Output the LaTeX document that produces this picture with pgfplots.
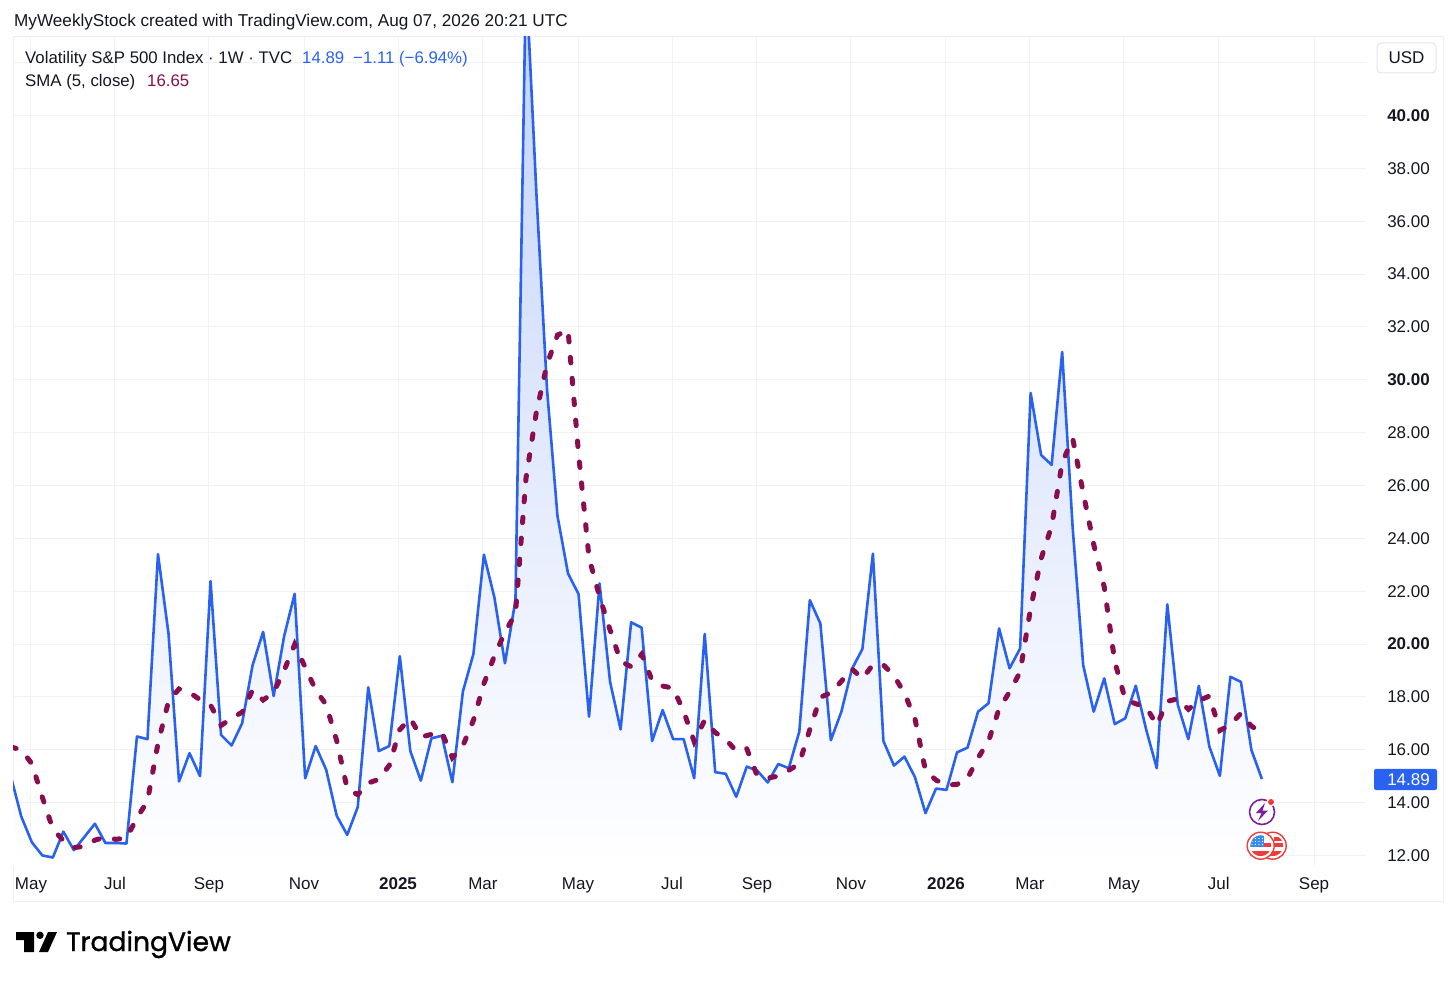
\documentclass[border=0pt]{standalone}
\usepackage{pgfplots}
\pgfplotsset{compat=1.18}
\usepackage{pgfplotstable}
\usepackage{fontspec}
\setmainfont{Liberation Sans}
\newfontfamily\logofont[FakeBold=1.2]{Poppins}
\usetikzlibrary{calc}
\definecolor{tvblue}{HTML}{2962F0}
\definecolor{smac}{HTML}{880E4F}
\definecolor{gridc}{HTML}{F1F2F6}
\definecolor{framec}{HTML}{EDEFF3}
\definecolor{txt}{HTML}{131722}
\definecolor{flagred}{HTML}{EE3B3B}
\definecolor{flagblue}{HTML}{3A8BE8}
\definecolor{boltc}{HTML}{7B1FA2}
\pgfplotstableread{
i v s
0 15.0 16.1
1 13.47 16.0
2 12.5 15.47
3 12.0 14.2
4 11.92 13.0
5 12.9 12.56
6 12.2 12.30
7 12.7 12.34
8 13.2 12.58
9 12.47 12.69
10 12.47 12.61
11 12.45 12.66
12 16.5 13.42
13 16.4 14.06
14 23.4 16.24
15 20.4 17.83
16 14.8 18.3
17 15.87 18.17
18 15.0 17.89
19 22.38 17.69
20 16.56 16.92
21 16.16 17.19
22 17.0 17.42
23 19.2 18.26
24 20.46 17.88
25 18.03 18.17
26 20.3 19.0
27 21.9 19.98
28 14.92 19.12
29 16.14 18.26
30 15.24 17.7
31 13.5 16.34
32 12.78 14.52
33 13.83 14.30
34 18.36 14.74
35 15.95 14.88
36 16.14 15.41
37 19.54 16.76
38 15.95 17.19
39 14.83 16.48
40 16.43 16.58
41 16.53 16.66
42 14.77 15.70
43 18.2 16.15
44 19.62 17.11
45 23.38 18.5
46 21.76 19.55
47 19.27 20.45
48 21.66 21.14
49 45.3 26.27
50 37.0 28.8
51 29.65 30.58
52 24.84 31.69
53 22.67 31.89
54 21.89 27.21
55 17.25 23.26
56 22.29 21.79
57 18.57 20.53
58 16.77 19.35
59 20.82 19.14
60 20.62 19.61
61 16.33 18.62
62 17.5 18.41
63 16.4 18.33
64 16.4 17.45
65 14.92 16.31
66 20.38 17.12
67 15.15 16.65
68 15.09 16.39
69 14.22 15.95
70 15.36 16.04
71 15.21 15.01
72 14.76 14.93
73 15.46 15.0
74 15.3 15.22
75 16.69 15.48
76 21.66 16.77
77 20.78 17.98
78 16.36 18.16
79 17.44 18.59
80 19.05 19.06
81 19.81 18.69
82 23.42 19.22
83 16.33 19.21
84 15.4 18.80
85 15.74 18.14
86 14.96 17.17
87 13.6 15.21
88 14.53 14.85
89 14.48 14.66
90 15.9 14.69
91 16.08 14.92
92 17.44 15.69
93 17.76 16.33
94 20.59 17.55
95 19.08 18.19
96 19.83 18.94
97 29.5 21.35
98 27.15 23.23
99 26.78 24.47
100 31.05 26.86
101 24.4 27.78
102 19.2 25.72
103 17.44 23.77
104 18.7 22.16
105 16.97 19.34
106 17.19 17.9
107 18.42 17.74
108 16.75 17.61
109 15.3 16.93
110 21.5 17.83
111 17.7 17.93
112 16.4 17.53
113 18.42 17.86
114 16.12 18.03
115 15.01 16.73
116 18.76 16.94
117 18.57 17.38
118 15.99 16.89
119 14.89 16.65
}\vix
\begin{document}
\begin{tikzpicture}[x=1pt,y=1pt]
\path[use as bounding box] (0,0) rectangle (1456,983);
% outer frame of the chart
\draw[framec,line width=1pt] (13,82) -- (1443,82) -- (1443,946) -- (13,946) -- cycle;
\begin{axis}[
  at={(13pt,117pt)},anchor=south west,
  scale only axis,width=1353pt,height=829pt,
  xmin=0.21,xmax=128.9,ymin=11.6,ymax=42.97,
  axis line style={draw=none},
  major tick style={draw=none},
  grid=major,grid style={gridc,line width=1pt},
  xtick={1.92,9.91,18.85,27.89,36.83,44.91,53.95,62.89,70.97,79.91,88.95,96.93,105.87,114.9,123.96},
  xticklabels={May,Jul,Sep,Nov,\textbf{2025},Mar,May,Jul,Sep,Nov,\textbf{2026},Mar,May,Jul,Sep},
  ytick={12,14,...,42},
  yticklabels={12.00,14.00,16.00,18.00,\textbf{20.00},22.00,24.00,26.00,28.00,\textbf{30.00},32.00,34.00,36.00,38.00,\textbf{40.00},{}},
  yticklabel pos=right,
  tick label style={font=\fontsize{17}{19}\selectfont,text=txt},
  /pgf/number format/assume math mode=true,
  yticklabel style={anchor=east,xshift=64pt,inner sep=0pt},
  xticklabel style={anchor=base,yshift=-23pt,inner sep=0pt},
]
\addplot[draw=none,shade,top color={rgb,255:red,193;green,209;blue,250},bottom color=white,forget plot] table[x=i,y=v]{\vix} \closedcycle;
\addplot[tvblue,line width=2.6pt,line join=round] table[x=i,y=v]{\vix};
\addplot[smac,line width=5pt,line cap=round,dash pattern=on 5.5pt off 15.5pt] table[x=i,y=s]{\vix};
\end{axis}
% header and legend
\node[anchor=base west,inner sep=0pt,text=txt,font=\fontsize{17.15}{19}\selectfont] at (14,956.5) {MyWeeklyStock created with TradingView.com, Aug 07, 2026 20:21 UTC};
\node[anchor=base west,inner sep=0pt,text=txt,font=\fontsize{16.8}{19}\selectfont] at (25,919.5) {Volatility S\&P 500 Index · 1W · TVC};
\node[anchor=base west,inner sep=0pt,text=tvblue,font=\fontsize{16.8}{19}\selectfont] at (302,919.5) {14.89};
\node[anchor=base west,inner sep=0pt,text=tvblue,font=\fontsize{16.8}{19}\selectfont] at (353,919.5) {−1.11 (−6.94\%)};
\node[anchor=base west,inner sep=0pt,text=txt,font=\fontsize{16.8}{19}\selectfont] at (25,896.5) {SMA (5, close)};
\node[anchor=base west,inner sep=0pt,text=smac,font=\fontsize{16.8}{19}\selectfont] at (147,896.5) {16.65};
% currency box
\draw[draw=framec!80!black!20!framec,fill=white,rounded corners=4pt,line width=1pt] (1377,910) rectangle (1436,940);
\node[text=txt,font=\fontsize{17}{19}\selectfont] at (1406.5,925) {USD};
% price tag
\fill[tvblue,rounded corners=2pt] (1374,193) rectangle (1437,214);
\node[anchor=east,inner sep=0pt,text=white,font=\fontsize{17}{19}\selectfont] at (1430,203.5) {14.89};
% event icons
\draw[boltc,line width=1.6pt] (1262,171) circle (12.5);
\fill[boltc] (1265,180) -- (1256,170) -- (1261.5,170) -- (1258,162) -- (1268,172.5) -- (1262.5,172.5) -- cycle;
\fill[white] (1271,181) circle (4.5);
\fill[flagred] (1271,181) circle (3);
% second flag coin
\filldraw[fill=white,draw=flagred,line width=1.4pt] (1272.7,137.3) circle (13.5);
\begin{scope}
\clip (1272.7,137.3) circle (10.5);
\fill[flagred] (1274,136) rectangle (1290,140);
\fill[flagred] (1274,142.5) rectangle (1290,146);
\fill[flagred] (1260,127) rectangle (1290,132);
\end{scope}
% first flag coin
\filldraw[fill=white,draw=flagred,line width=1.4pt] (1260.7,137.3) circle (13.5);
\begin{scope}
\clip (1260.7,137.3) circle (10.5);
\fill[flagred] (1264,136) rectangle (1280,140);
\fill[flagred] (1245,127) rectangle (1280,132);
\fill[flagblue] (1248,136) rectangle (1264,150);
\foreach \a in {1252,1255.5,1259,1262.5}{\foreach \b in {138.5,141.5,144.5}{\fill[white] (\a,\b) circle (0.7);}}
\end{scope}
% TradingView logo
\fill[black] (16,51) -- (34,51) -- (34,31) -- (24,31) -- (24,43) -- (16,43) -- cycle;
\fill[black] (40,47.7) circle (3.7);
\fill[black] (48,51) -- (57,51) -- (48,31) -- (39,31) -- cycle;
\node[anchor=base west,inner sep=0pt,text=black,font=\logofont\fontsize{26.6}{30}\selectfont] at (66,32) {TradingView};
\end{tikzpicture}
\end{document}
